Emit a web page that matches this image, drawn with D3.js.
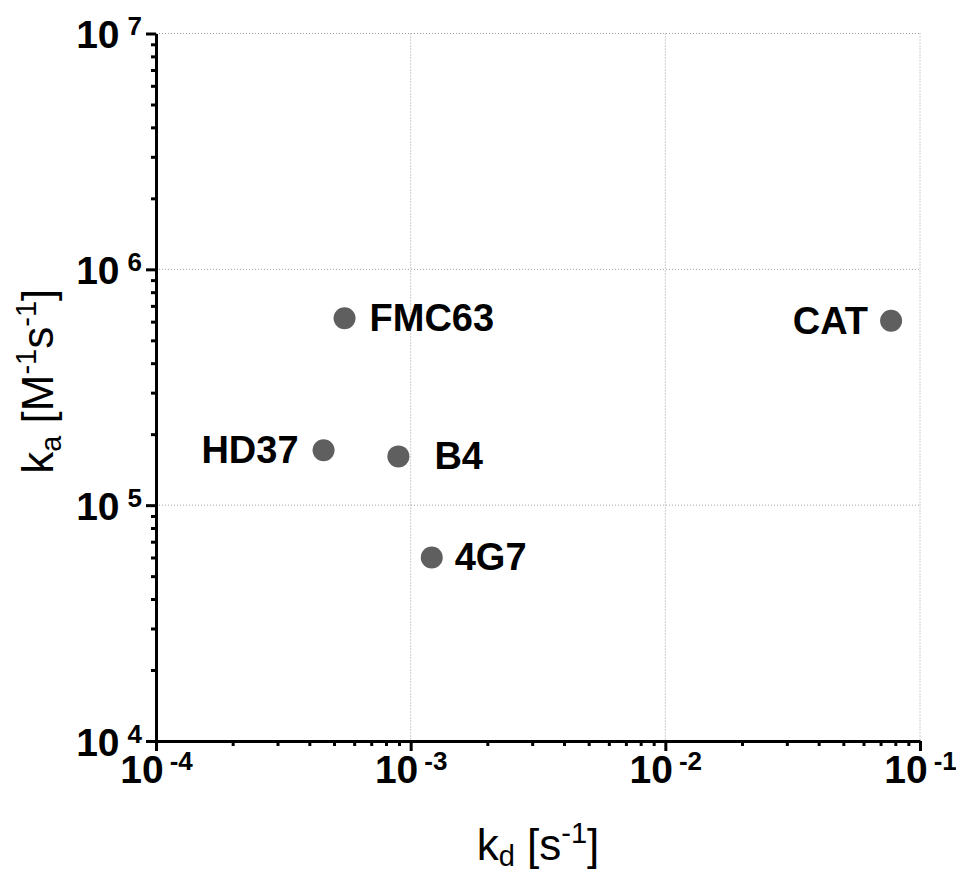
<!DOCTYPE html>
<html>
<head>
<meta charset="utf-8">
<script src="https://cdn.jsdelivr.net/npm/d3@7"></script>
<style>
  body { margin: 0; background: #fff; }
  svg { display: block; font-family: "Liberation Sans", Arial, sans-serif; }
</style>
</head>
<body>
<svg id="chart" width="956" height="871"></svg>
<script>
// Binding kinetics per antibody
const names = ["FMC63", "HD37", "B4", "4G7", "CAT"];
const kd = [5.5e-4, 4.55e-4, 8.95e-4, 1.21e-3, 7.7e-2];   // s^-1
const ka = [6.2e5, 1.71e5, 1.61e5, 6.0e4, 6.05e5];        // M^-1 s^-1

const xTickExp = [-4, -3, -2, -1];
const yTickExp = [4, 5, 6, 7];

// label placement (side, gap from point centre)
const labelSide = ["right", "left", "right", "right", "left"];
const labelGap = [25, 25, 36, 23, 23];

const svg = d3.select("#chart");
const margin = { left: 156, top: 33.5, right: 36, bottom: 130 };
const width = 956 - margin.left - margin.right;
const height = 871 - margin.top - margin.bottom;

const g = svg.append("g").attr("transform", `translate(${margin.left},${margin.top})`);

const x = d3.scaleLog().domain([1e-4, 1e-1]).range([0, width]);
const y = d3.scaleLog().domain([1e4, 1e7]).range([height, 0]);

// minor ticks 2..9 in each decade
function minorTicks(lo, hi) {
  const out = [];
  for (let e = lo; e < hi; e++) {
    for (let m = 2; m <= 9; m++) out.push(m * Math.pow(10, e));
  }
  return out;
}

// grid (dotted)
g.append("g").selectAll("line")
  .data(xTickExp.slice(1))
  .join("line")
    .attr("x1", d => x(Math.pow(10, d))).attr("x2", d => x(Math.pow(10, d)))
    .attr("y1", 0).attr("y2", height)
    .attr("stroke", "#a0a0a0").attr("stroke-width", 1).attr("stroke-dasharray", "1,2");
g.append("g").selectAll("line")
  .data(yTickExp.slice(1))
  .join("line")
    .attr("y1", d => y(Math.pow(10, d))).attr("y2", d => y(Math.pow(10, d)))
    .attr("x1", 0).attr("x2", width)
    .attr("stroke", "#a0a0a0").attr("stroke-width", 1).attr("stroke-dasharray", "1,2");

// minor ticks
g.append("g").attr("transform", `translate(0,${height})`)
  .call(d3.axisBottom(x).tickValues(minorTicks(-4, -1)).tickSize(5).tickFormat(""))
  .call(a => a.select(".domain").remove())
  .selectAll("line").attr("stroke", "#000").attr("stroke-width", 3);
g.append("g")
  .call(d3.axisLeft(y).tickValues(minorTicks(4, 7)).tickSize(5).tickFormat(""))
  .call(a => a.select(".domain").remove())
  .selectAll("line").attr("stroke", "#000").attr("stroke-width", 3);

// major axes
const xAxis = g.append("g").attr("transform", `translate(0,${height})`)
  .call(d3.axisBottom(x).tickValues(xTickExp.map(e => Math.pow(10, e))).tickSize(10).tickSizeOuter(0).tickFormat(""));
const yAxis = g.append("g")
  .call(d3.axisLeft(y).tickValues(yTickExp.map(e => Math.pow(10, e))).tickSize(10).tickSizeOuter(0).tickFormat(""));

[xAxis, yAxis].forEach(a => {
  a.select(".domain").attr("stroke", "#000").attr("stroke-width", 3);
  a.selectAll(".tick line").attr("stroke", "#000").attr("stroke-width", 3);
});

// tick labels as 10^n
xAxis.selectAll(".tick").each(function(d) {
  const t = d3.select(this).append("text")
    .attr("y", 42).attr("text-anchor", "middle")
    .attr("fill", "#000").attr("font-weight", "bold").attr("font-size", 39)
    .attr("font-family", "Liberation Sans, Arial, sans-serif");
  t.append("tspan").text("10");
  t.append("tspan").attr("dx", 6).attr("dy", -13).attr("font-size", 26)
    .text(Math.round(Math.log10(d)));
});
yAxis.selectAll(".tick").each(function(d) {
  const t = d3.select(this).append("text")
    .attr("x", -14).attr("y", 14).attr("text-anchor", "end")
    .attr("fill", "#000").attr("font-weight", "bold").attr("font-size", 39)
    .attr("font-family", "Liberation Sans, Arial, sans-serif");
  t.append("tspan").text("10");
  t.append("tspan").attr("dx", 8).attr("dy", -13).attr("font-size", 26)
    .text(Math.round(Math.log10(d)));
});

// points
const pts = names.map((n, i) => ({ name: n, kd: kd[i], ka: ka[i], side: labelSide[i], gap: labelGap[i] }));

g.append("g").selectAll("circle")
  .data(pts)
  .join("circle")
    .attr("cx", d => x(d.kd))
    .attr("cy", d => y(d.ka))
    .attr("r", 11)
    .attr("fill", "#5f5f5f");

g.append("g").selectAll("text")
  .data(pts)
  .join("text")
    .attr("x", d => x(d.kd) + (d.side === "right" ? d.gap : -d.gap))
    .attr("y", d => y(d.ka) + 13)
    .attr("text-anchor", d => d.side === "right" ? "start" : "end")
    .attr("font-weight", "bold")
    .attr("font-size", 38)
    .attr("fill", "#000")
    .text(d => d.name);

// axis titles
const xt = svg.append("text")
  .attr("x", margin.left + width / 2)
  .attr("y", 860)
  .attr("text-anchor", "middle")
  .attr("font-size", 44)
  .attr("fill", "#000");
xt.append("tspan").text("k");
xt.append("tspan").attr("dy", 6).attr("font-size", 29).text("d");
xt.append("tspan").attr("dy", -6).text(" [s");
xt.append("tspan").attr("dy", -17).attr("font-size", 29).text("-1");
xt.append("tspan").attr("dy", 17).text("]");

const yt = svg.append("text")
  .attr("transform", `translate(53,${margin.top + height / 2 - 6}) rotate(-90)`)
  .attr("text-anchor", "middle")
  .attr("font-size", 44)
  .attr("fill", "#000");
yt.append("tspan").text("k");
yt.append("tspan").attr("dy", 8).attr("font-size", 29).text("a");
yt.append("tspan").attr("dy", -8).text(" [M");
yt.append("tspan").attr("dy", -17).attr("font-size", 29).text("-1");
yt.append("tspan").attr("dy", 17).text("s");
yt.append("tspan").attr("dy", -17).attr("font-size", 29).text("-1");
yt.append("tspan").attr("dy", 17).text("]");
</script>
</body>
</html>
